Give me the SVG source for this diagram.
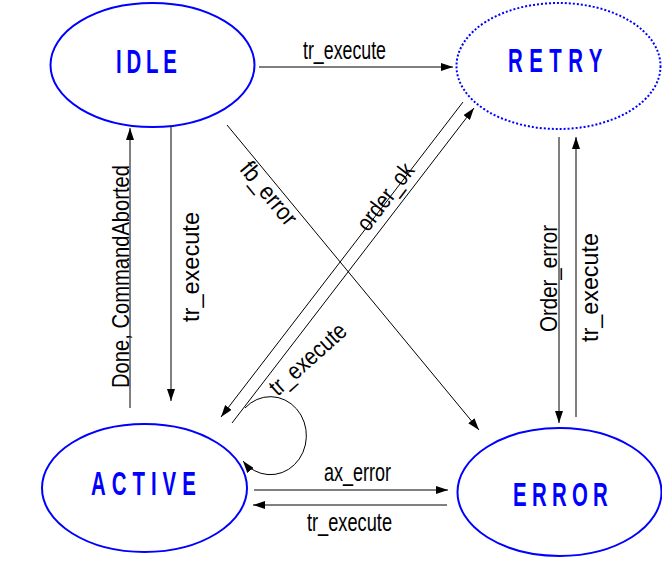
<svg xmlns="http://www.w3.org/2000/svg" width="662" height="587" viewBox="0 0 662 587">
<style>
.node{fill:#fff;stroke:#0000ff;stroke-width:2}
.dotted{stroke-dasharray:2 2}
.nt{font-family:"Liberation Sans",Arial,sans-serif;font-weight:bold;font-size:34px;fill:#0000ff}
.ln{fill:none;stroke:#000;stroke-width:1}
.lb{font-family:"Liberation Sans",Arial,sans-serif;font-size:26px;fill:#000}
.lv{font-family:"Liberation Sans",Arial,sans-serif;font-size:24px;fill:#000}
</style>
<defs>
<marker id="ah" markerUnits="userSpaceOnUse" markerWidth="12" markerHeight="8" refX="12" refY="4" orient="auto">
<path d="M0,0 L12,4 L0,8 Z" fill="#000"/>
</marker>
</defs>
<rect width="662" height="587" fill="#fff"/>
<g id="connectors">
<path class="ln" d="M259 67 H453" marker-end="url(#ah)"/>
<path class="ln" d="M171 124 V401" marker-end="url(#ah)"/>
<path class="ln" d="M130 408 V128" marker-end="url(#ah)"/>
<path class="ln" d="M227 125 L479 430" marker-end="url(#ah)"/>
<path class="ln" d="M463 102 L221 417" marker-end="url(#ah)"/>
<path class="ln" d="M232 423 L474 108" marker-end="url(#ah)"/>
<path class="ln" d="M245 408 A36 39 0 1 1 243 461" marker-end="url(#ah)"/>
<path class="ln" d="M559 137 V423" marker-end="url(#ah)"/>
<path class="ln" d="M576 417 V137" marker-end="url(#ah)"/>
<path class="ln" d="M254 490 H448" marker-end="url(#ah)"/>
<path class="ln" d="M447 505 H253" marker-end="url(#ah)"/>
<text class="lb" x="303" y="59" textLength="83" lengthAdjust="spacingAndGlyphs">tr_execute</text>
<text class="lb" x="324" y="481" textLength="67" lengthAdjust="spacingAndGlyphs">ax_error</text>
<text class="lb" x="307" y="531" textLength="85" lengthAdjust="spacingAndGlyphs">tr_execute</text>
<text class="lv" transform="translate(129,388) rotate(-90)" textLength="223" lengthAdjust="spacingAndGlyphs">Done, CommandAborted</text>
<text class="lv" transform="translate(199,322) rotate(-90)" textLength="110" lengthAdjust="spacingAndGlyphs">tr_execute</text>
<text class="lv" transform="translate(557,332) rotate(-90)" textLength="107" lengthAdjust="spacingAndGlyphs">Order_error</text>
<text class="lv" transform="translate(598,342) rotate(-90)" textLength="109" lengthAdjust="spacingAndGlyphs">tr_execute</text>
<text class="lv" transform="translate(262.6,198.5) rotate(50.4)" text-anchor="middle" textLength="75" lengthAdjust="spacingAndGlyphs">fb_error</text>
<text class="lv" transform="translate(391.8,201.7) rotate(-52.5)" text-anchor="middle" textLength="78" lengthAdjust="spacingAndGlyphs">order_ok</text>
<text class="lv" transform="translate(313,365) rotate(-42)" text-anchor="middle" textLength="95" lengthAdjust="spacingAndGlyphs">tr_execute</text>
</g>
<g id="IDLE">
<ellipse class="node" cx="152.5" cy="65" rx="102" ry="62"/>
<text class="nt" transform="translate(116,73) scale(0.6,1)" letter-spacing="8">IDLE</text>
</g>
<g id="RETRY">
<ellipse class="node dotted" cx="558.5" cy="66" rx="102" ry="63"/>
<text class="nt" transform="translate(508,72) scale(0.6,1)" letter-spacing="10.8">RETRY</text>
</g>
<g id="ACTIVE">
<ellipse class="node" cx="144.5" cy="488" rx="102.5" ry="64"/>
<text class="nt" transform="translate(91,495) scale(0.6,1)" letter-spacing="10">ACTIVE</text>
</g>
<g id="ERROR">
<ellipse class="node" cx="559.5" cy="492" rx="102" ry="64"/>
<text class="nt" transform="translate(513,506) scale(0.6,1)" letter-spacing="8.8">ERROR</text>
</g>
</svg>
